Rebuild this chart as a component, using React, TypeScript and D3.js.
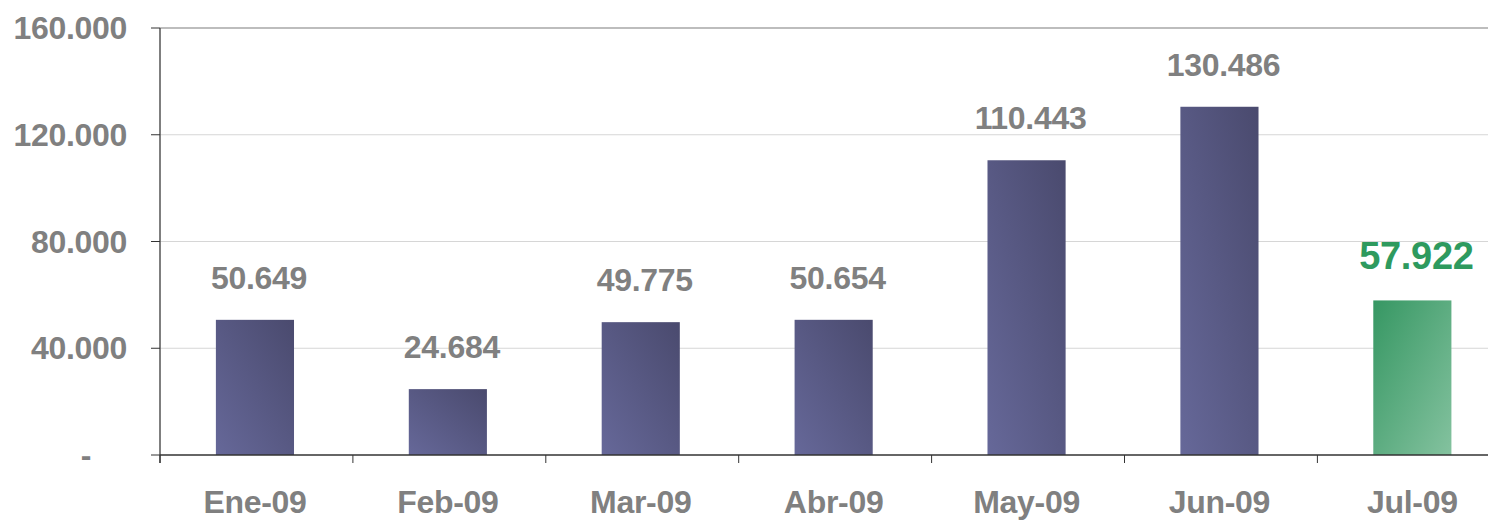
import React from 'react';
import * as d3 from 'd3';

const months = ['Ene-09', 'Feb-09', 'Mar-09', 'Abr-09', 'May-09', 'Jun-09', 'Jul-09'];
const values = [50649, 24684, 49775, 50654, 110443, 130486, 57922];
const valueLabels = ['50.649', '24.684', '49.775', '50.654', '110.443', '130.486', '57.922'];
const yTicks = [0, 40000, 80000, 120000, 160000];
const yTickLabels = ['-', '40.000', '80.000', '120.000', '160.000'];

const width = 1488;
const height = 522;
const left = 160;
const top = 28;
const bottom = 455;
const step = 192.9;

const App: React.FC = () => {
  const x = d3.scaleBand<string>()
    .domain(months)
    .range([left, left + step * months.length])
    .padding(0);

  const y = d3.scaleLinear()
    .domain([0, 160000])
    .range([bottom, top]);

  const barW = x.bandwidth() * 0.405;
  const font = '"Liberation Sans", Arial, sans-serif';
  const last = months.length - 1;
  const cx = (m: string) => x(m)! + x.bandwidth() / 2 - 1.5;

  return (
    <div style={{ position: 'absolute', left: 0, top: 0 }}>
      <svg width={width} height={height} style={{ display: 'block', background: '#fff' }}>
        <defs>
          <linearGradient id="gPurple" x1="0" y1="1" x2="1" y2="0">
            <stop offset="0%" stopColor="#666899" />
            <stop offset="100%" stopColor="#4a4a6e" />
          </linearGradient>
          <linearGradient id="gGreen" x1="0" y1="0" x2="1" y2="1">
            <stop offset="0%" stopColor="#369763" />
            <stop offset="100%" stopColor="#84c29f" />
          </linearGradient>
        </defs>

        {/* grid lines */}
        {yTicks.filter(t => t > 0).map(t => (
          <line
            key={t}
            x1={left}
            x2={width}
            y1={y(t)}
            y2={y(t)}
            stroke={t === 160000 ? '#bdbdbd' : '#d6d6d6'}
            strokeWidth={t === 160000 ? 2 : 1}
          />
        ))}

        {/* bars */}
        {months.map((m, i) => (
          <rect
            key={m}
            x={cx(m) - barW / 2}
            y={y(values[i])}
            width={barW}
            height={bottom - y(values[i])}
            fill={i === last ? 'url(#gGreen)' : 'url(#gPurple)'}
          />
        ))}

        {/* y axis */}
        <line x1={left} x2={left} y1={top} y2={bottom + 8} stroke="#555" strokeWidth={1.5} />
        {yTicks.map((t, i) => (
          <g key={t}>
            <line x1={left - 9} x2={left} y1={y(t)} y2={y(t)} stroke="#333" strokeWidth={1} />
            <text
              x={t === 0 ? 86 : 127}
              y={y(t) + 11}
              textAnchor={t === 0 ? 'middle' : 'end'}
              fontFamily={font}
              fontWeight="bold"
              fontSize={32}
              letterSpacing={-0.3}
              fill="#808080"
            >
              {yTickLabels[i]}
            </text>
          </g>
        ))}

        {/* x axis */}
        <line x1={left} x2={width} y1={bottom} y2={bottom} stroke="#333" strokeWidth={1.5} />
        {months.map(m => (
          <line key={m} x1={x(m)!} x2={x(m)!} y1={bottom} y2={bottom + 8} stroke="#333" strokeWidth={1} />
        ))}
        {months.map(m => (
          <text
            key={m}
            x={cx(m)}
            y={513}
            textAnchor="middle"
            fontFamily={font}
            fontWeight="bold"
            fontSize={32}
            letterSpacing={-0.3}
            fill="#808080"
          >
            {m}
          </text>
        ))}

        {/* value labels */}
        {months.map((m, i) => (
          <text
            key={m}
            x={cx(m) + 4}
            y={y(values[i]) - 31}
            textAnchor="middle"
            fontFamily={font}
            fontWeight="bold"
            fontSize={i === last ? 38 : 32}
            letterSpacing={-0.3}
            fill={i === last ? '#2e9a5e' : '#808080'}
          >
            {valueLabels[i]}
          </text>
        ))}
      </svg>
    </div>
  );
};

export default App;
